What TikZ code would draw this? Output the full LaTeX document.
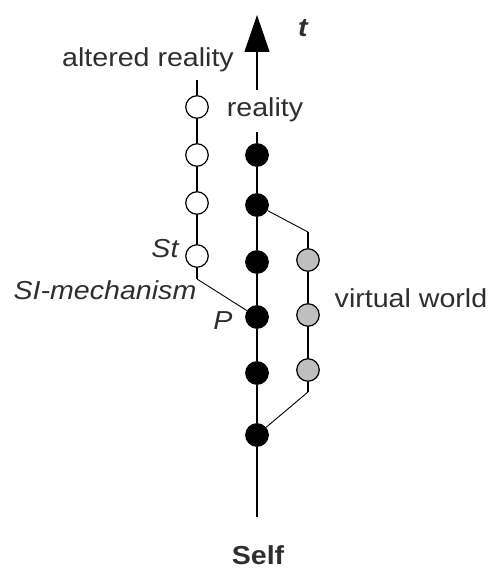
\documentclass[tikz,border=0pt]{standalone}
\usepackage{fontspec}
\setmainfont{Liberation Sans}[FakeStretch=1.1]
\usetikzlibrary{arrows.meta}
\begin{document}
\begin{tikzpicture}[x=1pt,y=-1pt,
  dot/.style={circle,draw=black,line width=1.2pt,minimum size=22.5pt,inner sep=0pt},
  bdot/.style={dot,fill=black},
  wdot/.style={dot,fill=white},
  gdot/.style={dot,fill=black!25},
  lbl/.style={inner sep=0pt,font=\fontsize{26}{29}\selectfont,text=black!82},
  vline/.style={line width=1.3pt},
  thin/.style={line width=0.9pt}]
\useasboundingbox (0,0) rectangle (489,575);
% reality column
\coordinate (tip) at (257,15);
\coordinate (rtop) at (257,90);
\coordinate (rbot) at (257,132);
\coordinate (sbot) at (257,517);
\node[bdot] (b1) at (257,155) {};
\node[bdot] (b2) at (257,205) {};
\node[bdot] (b3) at (257,262) {};
\node[bdot] (b4) at (257,317) {};
\node[bdot] (b5) at (257,373) {};
\node[bdot] (b6) at (257,435) {};
% altered reality column
\coordinate (atop) at (197,80);
\node[wdot] (w1) at (197,107) {};
\node[wdot] (w2) at (197,155) {};
\node[wdot] (w3) at (197,203) {};
\node[wdot] (w4) at (197,256) {};
\coordinate (wk) at (197,279);
% virtual world column
\coordinate (gk1) at (308,232);
\node[gdot] (g1) at (308,260) {};
\node[gdot] (g2) at (308,315) {};
\node[gdot] (g3) at (308,370) {};
\coordinate (gk2) at (308,392);
% lines
\draw[vline,-{Triangle[length=37pt,width=25pt]}] (rtop) -- (tip);
\draw[vline] (rbot) -- (b1) -- (b2) -- (b3) -- (b4) -- (b5) -- (b6) -- (sbot);
\draw[vline] (atop) -- (w1) -- (w2) -- (w3) -- (w4) -- (wk);
\draw[thin] (wk) -- (b4);
\draw[thin] (b2) -- (gk1);
\draw[vline] (gk1) -- (g1) -- (g2) -- (g3) -- (gk2);
\draw[thin] (gk2) -- (b6);
% labels
\node[lbl,font=\fontsize{26}{29}\selectfont\bfseries\itshape] (t) at (303,28) {t};
\node[lbl] (altered) at (148,60) {altered reality};
\node[lbl] (reality) at (265,110) {reality};
\node[lbl,font=\fontsize{26}{29}\selectfont\itshape] (st) at (165,249) {St};
\node[lbl,font=\fontsize{26}{29}\selectfont\itshape] (si) at (105,290) {SI-mechanism};
\node[lbl,font=\fontsize{26}{29}\selectfont\itshape] (p) at (223,321) {P};
\node[lbl] (virtual) at (411,298) {virtual world};
\node[lbl,font=\fontsize{26}{29}\selectfont\bfseries] (self) at (258,555) {Self};
\end{tikzpicture}
\end{document}
